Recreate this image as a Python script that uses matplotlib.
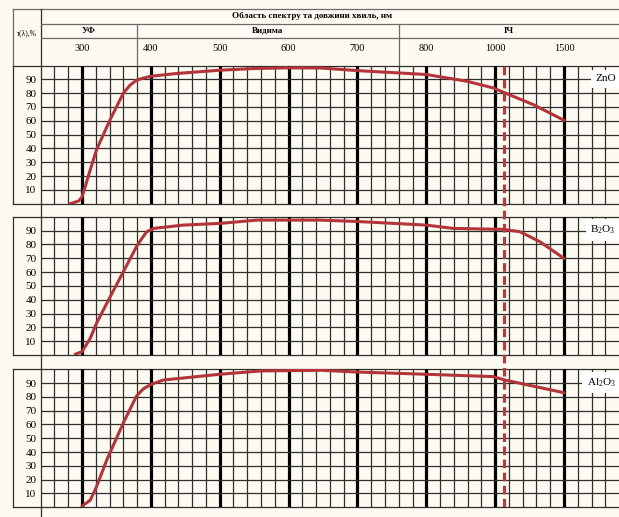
import numpy as np
import matplotlib
matplotlib.use('Agg')
import matplotlib.pyplot as plt

# ---------------- data ----------------
WL_TICKS = [300, 400, 500, 600, 700, 800, 1000, 1500]
TICK_LABELS = ['300', '400', '500', '600', '700', '800', '1000', '1500']
REGION_EDGES = [380, 760]
REGION_LABELS = ['УФ', 'Видима', 'ІЧ']
HEADER_TITLE = 'Область спектру та довжини хвиль, нм'
Y_LABEL = 'τ(λ),%'
Y_TICKS = [10, 20, 30, 40, 50, 60, 70, 80, 90]
LASER_WL = 1064

wl_zno = [282, 295, 300, 304, 309, 321, 341, 360, 370, 379, 389, 400, 437, 500, 549, 597, 646, 700, 800, 918, 994, 1071, 1277, 1500]
t_zno = [0, 2.0, 5.0, 11.2, 19.8, 39, 61, 80, 85.9, 89.3, 90.9, 92.2, 94.2, 96.6, 97.8, 98.3, 98.2, 96.3, 93.5, 88.6, 83.8, 80.2, 71.7, 60.4]

wl_b2o3 = [290, 300, 312, 321, 341, 360, 379, 387, 394, 404, 447, 500, 554, 646, 700, 800, 878, 1059, 1180, 1326, 1500]
t_b2o3 = [0.5, 2.4, 12.1, 22.9, 42.2, 60.2, 78.3, 84.4, 89.2, 91.6, 94, 95.2, 97.6, 97.6, 96.6, 94, 91.6, 90.9, 89.2, 81.9, 69.9]

wl_al2o3 = [300, 304, 312, 321, 336, 360, 379, 389, 400, 418, 500, 559, 646, 700, 800, 994, 1071, 1500]
t_al2o3 = [0.7, 2.2, 5.1, 14.8, 34.3, 61.1, 80.5, 85.8, 89, 92.2, 96.4, 98.8, 99.3, 98.0, 96.4, 94.7, 92.2, 83]

SAMPLES = ['ZnO', 'B$_2$O$_3$', 'Al$_2$O$_3$']
SERIES = [(wl_zno, t_zno), (wl_b2o3, t_b2o3), (wl_al2o3, t_al2o3)]

# ---------------- style ----------------
plt.rcParams['font.family'] = ['Liberation Serif', 'DejaVu Serif']
plt.rcParams['mathtext.fontset'] = 'custom'
plt.rcParams['mathtext.rm'] = 'Liberation Serif'
plt.rcParams['mathtext.it'] = 'Liberation Serif:italic'

BG = '#fdfbf1'
RED = '#b3343b'
THIN = '#2e2e2e'
HDR = '#6a6a6a'

W, H = 619, 517
fig = plt.figure(figsize=(W / 100, H / 100), dpi=100, facecolor=BG)

# piecewise-linear wavelength axis (equal spacing between nominal wavelengths)
_KW = np.array([100, 300, 400, 500, 600, 700, 800, 1000, 1500, 3000], float)
_KU = np.array([-2, 0, 1, 2, 3, 4, 5, 6, 7, 10], float)


def fwd(x):
    return np.interp(x, _KW, _KU)


def inv(u):
    return np.interp(u, _KU, _KW)


U0, U1 = -0.6, 7.8
X0 = 82 + U0 * 68.86
X1 = 82 + U1 * 68.86
XL = 13  # outer left border


def rect(x0, y0, x1, y1):
    return [x0 / W, 1 - y1 / H, (x1 - x0) / W, (y1 - y0) / H]


def set_wl_scale(ax):
    ax.set_xscale('function', functions=(fwd, inv))
    ax.set_xlim(inv(U0), inv(U1))


# background axes in pixel coordinates
bg = fig.add_axes([0, 0, 1, 1], zorder=0)
bg.set_xlim(0, W)
bg.set_ylim(H, 0)
bg.axis('off')
bg.set_facecolor(BG)

# header frame
HT, HB = 9, 66
bg.plot([XL, W], [HT, HT], color=HDR, lw=0.9)
bg.plot([XL, XL], [HT, HB], color=HDR, lw=0.9)
bg.plot([X0, X0], [HT, H], color=THIN, lw=0.9)
bg.text((XL + X0) / 2, 33, Y_LABEL, ha='center', va='center', fontsize=5.5)

hdr = fig.add_axes(rect(X0, HT, X1, HB), zorder=1)
set_wl_scale(hdr)
hdr.set_ylim(HB, HT)
hdr.axis('off')
hdr.axhline(24, color=HDR, lw=0.9)
hdr.axhline(38, color=HDR, lw=0.9)
hdr.vlines(REGION_EDGES, 24, HB, color=HDR, lw=0.9)
hdr.text(0.47, 16.5, HEADER_TITLE, transform=hdr.get_yaxis_transform(),
         ha='center', va='center', fontsize=6.5, fontweight='bold')
edges_u = [U0] + list(fwd(np.array(REGION_EDGES))) + [U1]
for i, lab in enumerate(REGION_LABELS):
    xm = inv((edges_u[i] + edges_u[i + 1]) / 2)
    hdr.text(xm, 31, lab, ha='center', va='center', fontsize=6.5, fontweight='bold')
for wl, lab in zip(WL_TICKS, TICK_LABELS):
    hdr.text(wl, 49, lab, ha='center', va='center', fontsize=7.5)

# panels
PANELS = [(65.5, 203.8), (216.8, 355.0), (369.3, 507.2)]
for (top, bot), (wl, t), name in zip(PANELS, SERIES, SAMPLES):
    # left label column borders
    bg.plot([XL, W], [top, top], color=THIN, lw=0.9)
    bg.plot([XL, W], [bot, bot], color=THIN, lw=0.9)
    bg.plot([XL, XL], [top, bot], color=THIN, lw=0.9)

    ax = fig.add_axes(rect(X0, top, X1, bot), zorder=2)
    ax.patch.set_alpha(0)
    set_wl_scale(ax)
    ax.set_ylim(0, 100)
    for s in ax.spines.values():
        s.set_visible(False)
    ax.set_xticks(WL_TICKS)
    minor_u = np.round(np.arange(U0 + 0.2, U1, 0.2), 6)
    minor_u = minor_u[np.abs(minor_u - np.round(minor_u)) > 1e-6]
    ax.set_xticks(inv(minor_u), minor=True)
    ax.set_yticks(Y_TICKS)
    ax.set_yticklabels([str(v) for v in Y_TICKS])
    ax.tick_params(axis='x', which='both', length=0, labelbottom=False)
    ax.tick_params(axis='y', which='both', length=0, pad=3.0, labelsize=8)
    ax.grid(which='minor', axis='x', color=THIN, lw=0.9)
    ax.grid(which='major', axis='x', color='black', lw=2.3)
    ax.grid(which='major', axis='y', color=THIN, lw=0.9)
    ax.set_axisbelow(True)
    ax.plot(wl, t, color=RED, lw=2.2, solid_capstyle='round', solid_joinstyle='round', zorder=3)
    ax.text(0.994, 90.5, name, transform=ax.get_yaxis_transform(), ha='right', va='center',
            fontsize=8, zorder=4,
            bbox=dict(boxstyle='square,pad=0.4', fc='white', ec='none'))

# laser wavelength dashed marker spanning all panels
ov = fig.add_axes(rect(X0, HB, X1, PANELS[-1][1]), zorder=5)
ov.patch.set_alpha(0)
set_wl_scale(ov)
ov.axis('off')
ov.axvline(LASER_WL, color='#c8323a', lw=2.3, ls=(0, (2.7, 1.4)))

fig.savefig('out.png', dpi=100, facecolor=BG)
